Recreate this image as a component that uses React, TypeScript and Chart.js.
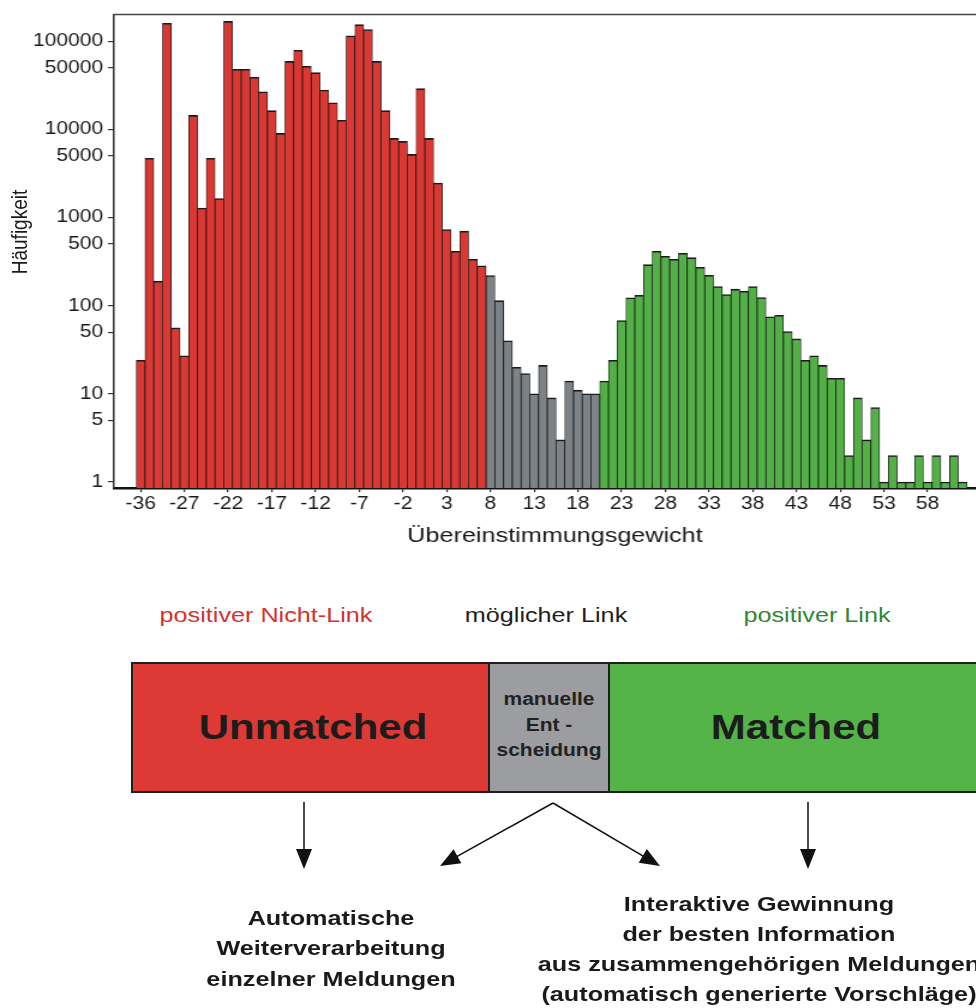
import React, { useEffect, useRef } from "react";
import { Chart, registerables } from "chart.js";

Chart.register(...registerables);

// ---------- data ----------
const weights = [
  -36, -31, -30, -29, -28, -27, -26, -25, -24, -23, -22, -21, -20, -19, -18, -17,
  -16, -15, -14, -13, -12, -11, -10, -9, -8, -7, -6, -5, -4, -3, -2, -1, 0, 1, 2,
  3, 4, 5, 6, 7, 8, 9, 10, 11, 12, 13, 14, 15, 16, 17, 18, 19, 20, 21, 22, 23, 24,
  25, 26, 27, 28, 29, 30, 31, 32, 33, 34, 35, 36, 37, 38, 39, 40, 41, 42, 43, 44,
  45, 46, 47, 48, 49, 50, 51, 52, 53, 54, 55, 56, 57, 58, 59, 60, 61, 62,
];

const unmatchedCounts = [
  24, 4700, 190, 160000, 56, 27, 14400, 1280, 4700, 1640, 168000, 48000, 48000,
  39000, 26700, 16300, 9000, 59000, 79000, 52000, 44000, 28000, 20000, 12700,
  115000, 154000, 136000, 59000, 16300, 7900, 7300, 5200, 29000, 7900, 2460, 730,
  414, 700, 336, 283,
];

const possibleCounts = [220, 114, 40, 20, 17, 10, 21, 9, 3, 14, 11, 10, 10];

const matchedCounts = [
  14, 24, 68, 123, 131, 292, 414, 363, 336, 393, 351, 273, 221, 165, 134, 154, 146,
  165, 124, 75, 78, 51, 42, 24, 27, 21, 15, 15, 2, 9, 3, 7, 1, 2, 1, 1, 2, 1, 2, 1,
  2, 1,
];

const xTickWeights = [-36, -27, -22, -17, -12, -7, -2, 3, 8, 13, 18, 23, 28, 33, 38, 43, 48, 53, 58];
const yTickValues = [1, 5, 10, 50, 100, 500, 1000, 5000, 10000, 50000, 100000];

// ---------- style ----------
const FONT = "'Liberation Sans', Arial, Helvetica, sans-serif";
const SX = 1.2;
const CANVAS_W = 830;
const CANVAS_H = 560;

const RED_BAR = "rgb(220,56,51)";
const GRAY_BAR = "rgb(124,130,134)";
const GREEN_BAR = "rgb(82,176,70)";

const frameTop = {
  id: "frameTop",
  afterDraw(chart: any) {
    const { ctx, chartArea } = chart;
    ctx.save();
    ctx.strokeStyle = "#444";
    ctx.lineWidth = 1.5;
    ctx.beginPath();
    ctx.moveTo(chartArea.left, chartArea.top);
    ctx.lineTo(chartArea.right + 20, chartArea.top);
    ctx.stroke();
    ctx.restore();
  },
};

function ChartPanel() {
  const ref = useRef<HTMLCanvasElement>(null);
  useEffect(() => {
    const canvas = ref.current;
    if (!canvas) return;
    Chart.defaults.font.family = FONT;
    const offPossible = unmatchedCounts.length;
    const offMatched = offPossible + possibleCounts.length;
    const mk = (arr: number[], off: number) => arr.map((v, i) => ({ x: off + i, y: v }));
    const common = {
      grouped: false,
      barPercentage: 1,
      categoryPercentage: 1,
      borderColor: "#1b1b1b",
      borderWidth: { top: 1.6, left: 0.8, right: 0.8, bottom: 0 },
      borderSkipped: "bottom",
    };
    const chart = new Chart(canvas, {
      type: "bar",
      data: {
        datasets: [
          { ...common, label: "positiver Nicht-Link", data: mk(unmatchedCounts, 0), backgroundColor: RED_BAR },
          { ...common, label: "möglicher Link", data: mk(possibleCounts, offPossible), backgroundColor: GRAY_BAR },
          { ...common, label: "positiver Link", data: mk(matchedCounts, offMatched), backgroundColor: GREEN_BAR },
        ] as any,
      },
      options: {
        animation: false,
        responsive: false,
        devicePixelRatio: 1,
        layout: { padding: { top: 14, left: 0, right: 0, bottom: 0 } },
        plugins: { legend: { display: false }, tooltip: { enabled: false } },
        scales: {
          x: {
            type: "linear",
            bounds: "data",
            min: -3.05,
            max: 97.81,
            offset: false,
            afterBuildTicks: (s: any) => {
              s.ticks = xTickWeights.map((w) => ({ value: weights.indexOf(w) }));
            },
            afterFit: (s: any) => {
              s.height = 72;
            },
            grid: { offset: false, drawOnChartArea: false, drawTicks: true, tickLength: 4, color: "#222", lineWidth: 1.2 },
            border: { display: true, color: "#111", width: 2.5 },
            ticks: {
              autoSkip: false,
              maxRotation: 0,
              padding: 2,
              color: "#1a1a1a",
              font: { size: 17.5 },
              callback: (v: any) => String(weights[Math.round(Number(v))]),
            },
            title: {
              display: true,
              text: "Übereinstimmungsgewicht",
              color: "#1a1a1a",
              font: { size: 21 },
              padding: { top: 0, bottom: 11 },
            },
          },
          y: {
            type: "logarithmic",
            min: 0.855,
            max: 201000,
            afterBuildTicks: (s: any) => {
              s.ticks = yTickValues.map((v) => ({ value: v }));
            },
            afterFit: (s: any) => {
              s.width = 95;
            },
            grid: { drawOnChartArea: false, drawTicks: true, tickLength: 5, color: "#333", lineWidth: 1.2 },
            border: { display: true, color: "#333", width: 1.5 },
            ticks: {
              padding: 4,
              color: "#1a1a1a",
              font: { size: 17.5 },
              callback: (v: any) => String(v),
            },
          },
        },
      } as any,
      plugins: [frameTop],
    });
    return () => chart.destroy();
  }, []);
  return (
    <canvas
      ref={ref}
      width={CANVAS_W}
      height={CANVAS_H}
      style={{ display: "block", width: CANVAS_W, height: CANVAS_H }}
    />
  );
}

function Txt(props: {
  cx: number;
  top: number;
  size: number;
  lh: number;
  bold?: boolean;
  color?: string;
  children: React.ReactNode;
}) {
  const w = 700;
  return (
    <div
      style={{
        position: "absolute",
        left: props.cx - w / 2,
        top: props.top,
        width: w,
        textAlign: "center",
        fontSize: props.size,
        lineHeight: props.lh + "px",
        fontWeight: props.bold ? "bold" : "normal",
        color: props.color || "#1a1a1a",
        whiteSpace: "nowrap",
        transform: `scaleX(${SX})`,
        transformOrigin: "50% 50%",
      }}
    >
      {props.children}
    </div>
  );
}

function arrowHead(tipX: number, tipY: number, fromX: number, fromY: number, len: number, half: number) {
  const dx = tipX - fromX;
  const dy = tipY - fromY;
  const d = Math.hypot(dx, dy);
  const ux = dx / d;
  const uy = dy / d;
  const bx = tipX - ux * len;
  const by = tipY - uy * len;
  const nx = -uy;
  const ny = ux;
  return `${tipX},${tipY} ${bx + nx * half},${by + ny * half} ${bx - nx * half},${by - ny * half}`;
}

export default function App() {
  const apex = { x: 553, y: 803 };
  const leftTip = { x: 440, y: 866 };
  const rightTip = { x: 660, y: 866 };
  const boxBorder = "2px solid #1f1f1f";
  return (
    <div
      style={{
        position: "absolute",
        left: 0,
        top: 0,
        width: 976,
        height: 1008,
        overflow: "hidden",
        background: "#fff",
        fontFamily: FONT,
      }}
    >
      <div
        style={{
          position: "absolute",
          left: 0,
          top: 0,
          width: CANVAS_W,
          height: CANVAS_H,
          transform: `scaleX(${SX})`,
          transformOrigin: "0 0",
        }}
      >
        <ChartPanel />
      </div>

      {/* y axis title */}
      <div
        style={{
          position: "absolute",
          left: 20 - 100,
          top: 232 - 12,
          width: 200,
          height: 24,
          lineHeight: "24px",
          textAlign: "center",
          fontSize: 19,
          color: "#1a1a1a",
          whiteSpace: "nowrap",
          transform: `rotate(-90deg) scaleY(${SX})`,
          transformOrigin: "50% 50%",
        }}
      >
        Häufigkeit
      </div>

      {/* category labels */}
      <Txt cx={265.5} top={615 - 14} size={21} lh={28} color="rgb(214,50,46)">
        positiver Nicht-Link
      </Txt>
      <Txt cx={546} top={615 - 14} size={21} lh={28} color="#1e1e1e">
        möglicher Link
      </Txt>
      <Txt cx={816.5} top={615 - 14} size={21} lh={28} color="rgb(52,134,52)">
        positiver Link
      </Txt>

      {/* decision boxes */}
      <div
        style={{
          position: "absolute",
          left: 131,
          top: 662,
          width: 359,
          height: 131,
          border: boxBorder,
          boxSizing: "border-box",
          background: "rgb(222,58,53)",
        }}
      />
      <div
        style={{
          position: "absolute",
          left: 488,
          top: 662,
          width: 122,
          height: 131,
          border: boxBorder,
          boxSizing: "border-box",
          background: "rgb(155,157,161)",
        }}
      />
      <div
        style={{
          position: "absolute",
          left: 608,
          top: 662,
          width: 390,
          height: 131,
          border: boxBorder,
          boxSizing: "border-box",
          background: "rgb(84,180,72)",
        }}
      />
      <Txt cx={312.5} top={727 - 22} size={35} lh={44} bold color="#1c1c1c">
        Unmatched
      </Txt>
      <Txt cx={796} top={727 - 22} size={35} lh={44} bold color="#1c1c1c">
        Matched
      </Txt>
      <Txt cx={549} top={700 - 12.75} size={17.5} lh={25.5} bold color="#222">
        manuelle
        <br />
        Ent -
        <br />
        scheidung
      </Txt>

      {/* arrows */}
      <svg
        width={976}
        height={1008}
        style={{ position: "absolute", left: 0, top: 0 }}
      >
        <g stroke="#111" strokeWidth={1.5} fill="none">
          <line x1={304} y1={802} x2={304} y2={852} />
          <line x1={808} y1={802} x2={808} y2={852} />
          <line x1={leftTip.x + 10} y1={leftTip.y - 5.6} x2={apex.x} y2={apex.y} />
          <line x1={apex.x} y1={apex.y} x2={rightTip.x - 10} y2={rightTip.y - 5.8} />
        </g>
        <g fill="#111">
          <polygon points={arrowHead(304, 869, 304, 802, 20, 8)} />
          <polygon points={arrowHead(808, 869, 808, 802, 20, 8)} />
          <polygon points={arrowHead(leftTip.x, leftTip.y, apex.x, apex.y, 20, 8)} />
          <polygon points={arrowHead(rightTip.x, rightTip.y, apex.x, apex.y, 20, 8)} />
        </g>
      </svg>

      {/* consequences */}
      <Txt cx={331} top={918 - 15.25} size={21} lh={30.5} bold color="#1a1a1a">
        Automatische
        <br />
        Weiterverarbeitung
        <br />
        einzelner Meldungen
      </Txt>
      <Txt cx={759} top={904 - 15} size={21} lh={30} bold color="#1a1a1a">
        Interaktive Gewinnung
        <br />
        der besten Information
        <br />
        aus zusammengehörigen Meldungen
        <br />
        (automatisch generierte Vorschläge)
      </Txt>
    </div>
  );
}
